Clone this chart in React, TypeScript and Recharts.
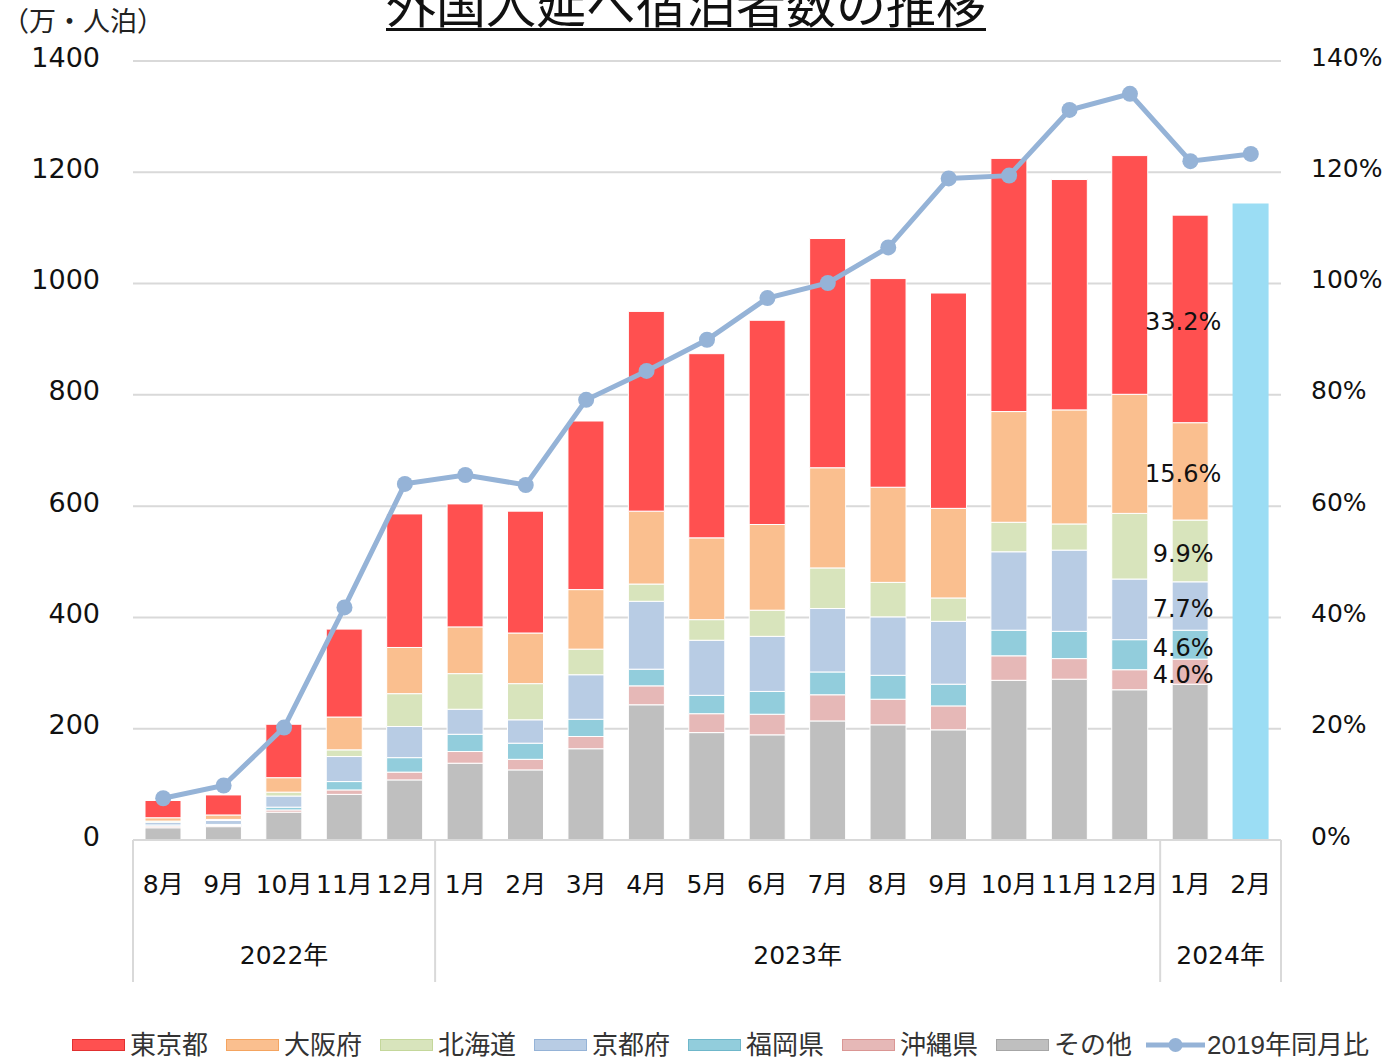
import React from 'react';
import { ComposedChart, Bar, Line, XAxis, YAxis, CartesianGrid, LabelList } from 'recharts';

// categories
const months = ['8月', '9月', '10月', '11月', '12月', '1月', '2月', '3月', '4月', '5月', '6月', '7月', '8月', '9月', '10月', '11月', '12月', '1月', '2月'];
const yearGroups = [
  { label: '2022年', start: 0, count: 5 },
  { label: '2023年', start: 5, count: 12 },
  { label: '2024年', start: 17, count: 2 },
];

// 万人泊, bottom to top
const other = [22, 24, 50, 82, 108, 138, 126, 164, 243, 193, 189, 214, 207, 198, 287, 289, 270, 280, null];
const okinawa = [3, 2, 4, 8, 14, 21, 19, 22, 34, 34, 37, 47, 46, 43, 44, 37, 36, 45, null];
const fukuoka = [2, 2, 5, 15, 26, 31, 29, 31, 30, 33, 41, 41, 43, 39, 46, 49, 54, 52, null];
const kyoto = [5, 7, 20, 45, 56, 45, 42, 80, 122, 99, 99, 114, 105, 113, 141, 146, 109, 87, null];
const hokkaido = [2, 2, 7, 12, 59, 64, 65, 46, 31, 37, 47, 73, 62, 42, 53, 47, 118, 111, null];
const osaka = [6, 8, 26, 59, 83, 84, 91, 107, 131, 147, 154, 180, 171, 161, 199, 205, 214, 175, null];
const tokyo = [31, 36, 96, 158, 240, 221, 219, 303, 359, 331, 367, 412, 375, 387, 455, 414, 429, 373, null];
// 2024年2月 is only a total
const totalOnly = [null, null, null, null, null, null, null, null, null, null, null, null, null, null, null, null, null, null, 1144];
// 2019年同月比 (%)
const vs2019 = [7.5, 9.8, 20.2, 41.8, 64.0, 65.6, 63.8, 79.1, 84.3, 89.9, 97.4, 100.1, 106.5, 118.9, 119.4, 131.2, 134.1, 122.0, 123.3];

const leftTicks = [0, 200, 400, 600, 800, 1000, 1200, 1400];
const rightTicks = [0, 20, 40, 60, 80, 100, 120, 140];

// share labels shown on 2024年1月
const shareIndex = 17;
const shareLabels: Record<string, string> = {
  tokyo: '33.2%',
  osaka: '15.6%',
  hokkaido: '9.9%',
  kyoto: '7.7%',
  fukuoka: '4.6%',
  okinawa: '4.0%',
};

const series = [
  { key: 'other', name: 'その他', color: '#BFBFBF', border: '#A6A6A6', values: other },
  { key: 'okinawa', name: '沖縄県', color: '#E6B8B7', border: '#DA9694', values: okinawa },
  { key: 'fukuoka', name: '福岡県', color: '#92CDDC', border: '#6FB7CA', values: fukuoka },
  { key: 'kyoto', name: '京都府', color: '#B8CCE4', border: '#95B3D7', values: kyoto },
  { key: 'hokkaido', name: '北海道', color: '#D8E4BC', border: '#C4D79B', values: hokkaido },
  { key: 'osaka', name: '大阪府', color: '#FABF8F', border: '#F4A460', values: osaka },
  { key: 'tokyo', name: '東京都', color: '#FF5050', border: '#E03030', values: tokyo },
];

const LINE_COLOR = '#95B3D7';
const TOTAL_COLOR = '#9BDDF4';
const GRID = '#D9D9D9';
const FONT = '"DejaVu Sans", "Noto Sans CJK JP", sans-serif';
const CJK = '"Noto Sans CJK JP", sans-serif';
const LEGEND_FONT = '"Liberation Sans", "Noto Sans CJK JP", sans-serif';

const data = months.map((m, i) => {
  const row: any = { id: `c${i}`, month: m, total: totalOnly[i], ratio: vs2019[i] };
  series.forEach((s) => {
    row[s.key] = s.values[i];
  });
  return row;
});

const W = 1384;
const H = 1060;
const PLOT_LEFT = 133;
const PLOT_RIGHT = 1281;
const BAND = (PLOT_RIGHT - PLOT_LEFT) / months.length;

const MonthTick = (props: any) => {
  const { x, y, payload } = props;
  const i = props.index ?? payload.index;
  const half = payload.offset || BAND / 2;
  const group = yearGroups.find((g) => g.start === i);
  const isLast = i === months.length - 1;
  return (
    <g>
      <text x={x} y={y + 44} textAnchor="middle" dominantBaseline="central" fontSize={25} fill="#111">
        {months[i]}
      </text>
      {group && (
        <>
          <line x1={x - half} y1={y} x2={x - half} y2={y + 142} stroke={GRID} strokeWidth={2} />
          <text
            x={x - half + group.count * half}
            y={y + 115}
            textAnchor="middle"
            dominantBaseline="central"
            fontSize={25}
            fill="#111"
          >
            {group.label}
          </text>
        </>
      )}
      {isLast && <line x1={x + half} y1={y} x2={x + half} y2={y + 142} stroke={GRID} strokeWidth={2} />}
    </g>
  );
};

const LeftTick = ({ x, y, payload }: any) => (
  <text x={x} y={y - 4} textAnchor="end" dominantBaseline="central" fontSize={27} fill="#111">
    {payload.value}
  </text>
);

const RightTick = ({ x, y, payload }: any) => (
  <text x={x} y={y - 4} textAnchor="start" dominantBaseline="central" fontSize={25} fill="#111">
    {payload.value}%
  </text>
);

const makeShareLabel = (key: string) => (props: any) => {
  const { x, y, width, height, index } = props;
  if (index !== shareIndex || !shareLabels[key]) return null;
  return (
    <text
      x={x + width / 2 - 7}
      y={y + height / 2 + 3}
      textAnchor="middle"
      dominantBaseline="central"
      fontSize={24}
      fill="#111"
    >
      {shareLabels[key]}
    </text>
  );
};

const legendItems = [...series].reverse();

const ChartLegend = () => (
  <div
    style={{
      position: 'absolute',
      left: 72,
      top: 1032,
      height: 26,
      display: 'flex',
      alignItems: 'center',
      fontFamily: LEGEND_FONT,
      fontSize: 26,
      lineHeight: '26px',
      color: '#333',
      whiteSpace: 'nowrap',
    }}
  >
    {legendItems.map((s) => (
      <div key={s.key} style={{ display: 'flex', alignItems: 'center', marginRight: 18 }}>
        <div
          style={{
            width: 53,
            height: 12,
            boxSizing: 'border-box',
            background: s.color,
            border: `1px solid ${s.border}`,
            marginRight: 5,
          }}
        />
        <span>{s.name}</span>
      </div>
    ))}
    <div style={{ display: 'flex', alignItems: 'center', marginLeft: -4 }}>
      <svg width={59} height={20} style={{ marginRight: 2 }}>
        <line x1={0} y1={10} x2={59} y2={10} stroke={LINE_COLOR} strokeWidth={5} />
        <circle cx={29.5} cy={10} r={7} fill={LINE_COLOR} />
      </svg>
      <span>2019年同月比</span>
    </div>
  </div>
);

export default function App() {
  return (
    <div style={{ position: 'absolute', left: 0, top: 0, width: W, height: H, overflow: 'hidden', background: '#fff', fontFamily: FONT }}>
      <div
        style={{
          position: 'absolute',
          left: 0,
          top: -24,
          width: 1372,
          textAlign: 'center',
          fontFamily: CJK,
          fontSize: 50,
          lineHeight: '50px',
          color: '#111',
          textDecoration: 'underline',
          textDecorationThickness: '3px',
          textUnderlineOffset: '5px',
        }}
      >
        外国人延べ宿泊者数の推移
      </div>
      <div style={{ position: 'absolute', left: 2, top: 6, fontFamily: CJK, fontSize: 27, lineHeight: '28px', color: '#222' }}>
        （万・人泊）
      </div>

      <ComposedChart
        width={W}
        height={H}
        data={data}
        margin={{ top: 61, right: 0, bottom: 70, left: 0 }}
      >
        <CartesianGrid yAxisId="left" vertical={false} stroke={GRID} strokeWidth={2} />
        <XAxis
          dataKey="id"
          height={150}
          interval={0}
          tickLine={false}
          tickSize={0}
          tickMargin={0}
          axisLine={{ stroke: GRID, strokeWidth: 2 }}
          tick={<MonthTick />}
        />
        <YAxis
          yAxisId="left"
          width={PLOT_LEFT}
          domain={[0, 1400]}
          ticks={leftTicks}
          axisLine={false}
          tickLine={false}
          tickSize={0}
          tickMargin={33}
          tick={<LeftTick />}
        />
        <YAxis
          yAxisId="right"
          orientation="right"
          width={W - PLOT_RIGHT}
          domain={[0, 140]}
          ticks={rightTicks}
          axisLine={false}
          tickLine={false}
          tickSize={0}
          tickMargin={30}
          tick={<RightTick />}
        />
        {series.map((s) => (
          <Bar
            key={s.key}
            yAxisId="left"
            dataKey={s.key}
            name={s.name}
            stackId="a"
            fill={s.color}
            stroke="#fff"
            strokeWidth={1}
            barSize={36}
            isAnimationActive={false}
          >
            <LabelList dataKey={s.key} content={makeShareLabel(s.key)} />
          </Bar>
        ))}
        <Bar
          yAxisId="left"
          dataKey="total"
          stackId="a"
          fill={TOTAL_COLOR}
          barSize={36}
          isAnimationActive={false}
        />
        <Line
          yAxisId="right"
          dataKey="ratio"
          name="2019年同月比"
          stroke={LINE_COLOR}
          strokeWidth={5}
          dot={{ r: 8, fill: LINE_COLOR, stroke: 'none' }}
          activeDot={false}
          isAnimationActive={false}
        />
      </ComposedChart>

      <ChartLegend />
    </div>
  );
}
